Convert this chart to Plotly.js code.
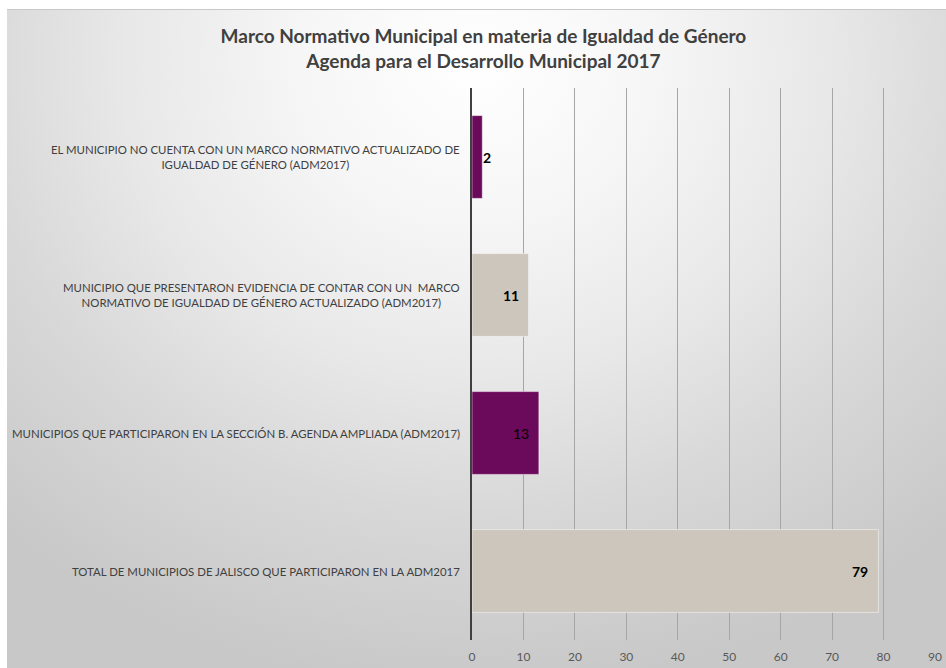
<!DOCTYPE html>
<html>
<head>
<meta charset="utf-8">
<script src="https://cdn.plot.ly/plotly-3.0.1.min.js"></script>
<style>
html,body{margin:0;padding:0;background:#ffffff;}
#bg{position:absolute;left:7px;top:9px;width:939px;height:659px;
background:radial-gradient(ellipse 75% 95% at 50% 8%, #ffffff 0%, #f6f6f6 25%, #e8e8e8 50%, #d8d8d8 72%, #c8c8c8 100%);
border-top:1px solid #c8c8c8;}
#chart{position:absolute;left:0;top:0;width:946px;height:668px;}
</style>
</head>
<body>
<div id="bg"></div>
<div id="chart"></div>
<script>
var categories = [
  "EL MUNICIPIO NO CUENTA CON UN MARCO NORMATIVO ACTUALIZADO DE<br>IGUALDAD DE GÉNERO (ADM2017)",
  "MUNICIPIO QUE PRESENTARON EVIDENCIA DE CONTAR CON UN  MARCO<br>NORMATIVO DE IGUALDAD DE GÉNERO ACTUALIZADO (ADM2017)",
  "MUNICIPIOS QUE PARTICIPARON EN LA SECCIÓN B. AGENDA AMPLIADA (ADM2017)",
  "TOTAL DE MUNICIPIOS DE JALISCO QUE PARTICIPARON EN LA ADM2017"
];
var values = [2, 11, 13, 79];
var valueLabels = ["2", "11", "13", "79"];
var boldLabel = [true, true, false, true];
var barColors = ["#6b0a5b", "#ccc6bc", "#6b0a5b", "#ccc6bc"];
var tickValues = [0, 10, 20, 30, 40, 50, 60, 70, 80, 90];

var font = "Lato, 'Open Sans', sans-serif";

var trace = {
  type: "bar",
  orientation: "h",
  y: categories,
  x: values,
  width: 0.6,
  marker: {color: barColors, line: {color: "#ffffff", width: 0.5}},
  hoverinfo: "x+y"
};

var annotations = [];
for (var i = 0; i < categories.length; i++) {
  annotations.push({
    xref: "paper", yref: "y", x: 0, y: categories[i],
    xanchor: "right", yanchor: "middle", xshift: -10,
    text: categories[i], showarrow: false, align: "center",
    font: {family: font, size: 11.4, color: "#404040"}
  });
  var small = values[i] < 4;
  annotations.push({
    xref: "x", yref: "y", x: values[i], y: categories[i],
    xanchor: small ? "left" : "right", yanchor: "middle",
    xshift: small ? -1 : -8,
    text: boldLabel[i] ? "<b>" + valueLabels[i] + "</b>" : valueLabels[i],
    showarrow: false,
    font: {family: font, size: 14, color: "#000000"}
  });
}

var layout = {
  width: 946, height: 668,
  paper_bgcolor: "rgba(0,0,0,0)",
  plot_bgcolor: "rgba(0,0,0,0)",
  margin: {l: 472, r: 11, t: 88, b: 28, pad: 0},
  showlegend: false,
  title: {
    text: "<b>Marco Normativo Municipal en materia de Igualdad de Género<br>Agenda para el Desarrollo Municipal 2017</b>",
    x: 0.511, xanchor: "center", y: 0.935, yanchor: "top",
    font: {family: font, size: 19, color: "#404040"}
  },
  xaxis: {
    range: [0, 90], tickvals: tickValues, ticktext: tickValues.map(String),
    showgrid: true, gridcolor: "#a6a6a6", gridwidth: 1,
    zeroline: false, showline: false, ticks: "",
    ticklabelstandoff: 8,
    tickfont: {family: font, size: 12, color: "#595959"}
  },
  yaxis: {
    type: "category", autorange: "reversed",
    showticklabels: false, showgrid: false, zeroline: false,
    showline: true, linecolor: "#404040", linewidth: 2, ticks: ""
  },
  annotations: annotations,
  bargap: 0.4
};

Plotly.newPlot("chart", [trace], layout, {displayModeBar: false, staticPlot: true});
</script>
</body>
</html>
